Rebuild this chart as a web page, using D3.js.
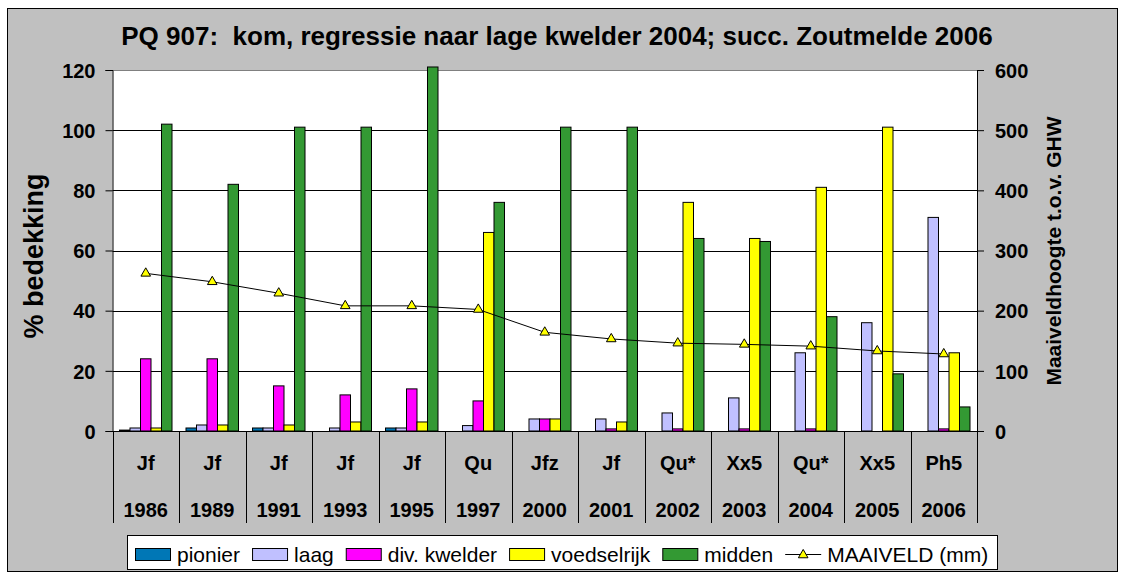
<!DOCTYPE html>
<html>
<head>
<meta charset="utf-8">
<script src="https://cdn.jsdelivr.net/npm/d3@7"></script>
<style>
  body { margin: 0; background: #fff; }
  text { font-family: "Liberation Sans", Arial, sans-serif; }
</style>
</head>
<body>
<svg width="1121" height="577"></svg>
<script>
// data
var years = ['1986', '1989', '1991', '1993', '1995', '1997', '2000', '2001', '2002', '2003', '2004', '2005', '2006'];
var codes = ['Jf', 'Jf', 'Jf', 'Jf', 'Jf', 'Qu', 'Jfz', 'Jf', 'Qu*', 'Xx5', 'Qu*', 'Xx5', 'Ph5'];
var pionier = [0.3, 1, 1, 0, 1, 0, 0, 0, 0, 0, 0, 0, 0];
var laag = [1, 2, 1, 1, 1, 1.8, 4, 4, 6, 11, 26, 36, 71];
var divKwelder = [24, 24, 15, 12, 14, 10, 4, 0.7, 0.7, 0.7, 0.7, 0, 0.7];
var voedselrijk = [1, 2, 2, 3, 3, 66, 4, 3, 76, 64, 81, 101, 26];
var midden = [102, 82, 101, 101, 121, 76, 101, 101, 64, 63, 38, 19, 8];
var maaiveld = [262, 248, 229, 208, 208, 202, 164, 153, 146, 144, 141, 133, 128];
var leftTicks = [0, 20, 40, 60, 80, 100, 120];
var rightTicks = [0, 100, 200, 300, 400, 500, 600];

var series = [
    { name: 'pionier', values: pionier, color: '#0077b6' },
    { name: 'laag', values: laag, color: '#c0c0ff' },
    { name: 'div. kwelder', values: divKwelder, color: '#ff00ff' },
    { name: 'voedselrijk', values: voedselrijk, color: '#ffff00' },
    { name: 'midden', values: midden, color: '#339933' }
];

var svg = d3.select('svg');
var plot = { l: 112.5, r: 977, t: 70, b: 431 };

// chart background
svg.append('rect')
    .attr('x', 7.5).attr('y', 8.5)
    .attr('width', 1110).attr('height', 563)
    .attr('fill', '#c0c0c0')
    .attr('stroke', '#000');

svg.append('rect')
    .attr('x', plot.l).attr('y', plot.t)
    .attr('width', plot.r - plot.l).attr('height', plot.b - plot.t)
    .attr('fill', '#fff');

// scales
var x = d3.scaleBand().domain(years).range([plot.l, plot.r]).padding(0);
var x1 = d3.scaleBand().domain(series.map(d => d.name)).range([7, x.bandwidth() - 7]).padding(0);
var y = d3.scaleLinear().domain([0, 120]).range([plot.b, plot.t]);
var y2 = d3.scaleLinear().domain([0, 600]).range([plot.b, plot.t]);

// gridlines
svg.append('g').selectAll('line')
    .data(leftTicks.filter(d => d > 0))
    .enter().append('line')
    .attr('x1', plot.l).attr('x2', plot.r)
    .attr('y1', d => Math.round(y(d)) + 0.5).attr('y2', d => Math.round(y(d)) + 0.5)
    .attr('stroke', d => d === 120 ? '#808080' : '#000')
    .attr('stroke-width', 1);

// bars
series.forEach(function(s) {
    svg.append('g').selectAll('rect')
        .data(years)
        .enter().append('rect')
        .attr('x', (d, i) => x(d) + x1(s.name))
        .attr('y', (d, i) => y(s.values[i]))
        .attr('width', x1.bandwidth())
        .attr('height', (d, i) => y(0) - y(s.values[i]))
        .attr('fill', s.color)
        .attr('stroke', '#000')
        .attr('stroke-width', 1)
        .style('display', (d, i) => s.values[i] > 0 ? null : 'none');
});

// left axis
var yAxis = d3.axisLeft(y).tickValues(leftTicks).tickSize(7).tickPadding(10);
var gy = svg.append('g')
    .attr('transform', `translate(${plot.l},0)`)
    .call(yAxis);
gy.select('.domain').attr('stroke', '#000');
gy.selectAll('text')
    .style('font-size', '20px').style('font-weight', 'bold')
    .attr('fill', '#000').attr('dy', '0.36em');

// right axis
var y2Axis = d3.axisRight(y2).tickValues(rightTicks).tickSize(7).tickPadding(11);
var gy2 = svg.append('g')
    .attr('transform', `translate(${plot.r},0)`)
    .call(y2Axis);
gy2.selectAll('text')
    .style('font-size', '20px').style('font-weight', 'bold')
    .attr('fill', '#000').attr('dy', '0.36em');

// category axis
svg.append('line')
    .attr('x1', plot.l).attr('x2', plot.r)
    .attr('y1', plot.b + 0.5).attr('y2', plot.b + 0.5)
    .attr('stroke', '#000');

var dividers = years.map(d => x(d)).concat([plot.r]);
svg.append('g').selectAll('line')
    .data(dividers)
    .enter().append('line')
    .attr('x1', d => Math.round(d) + 0.5).attr('x2', d => Math.round(d) + 0.5)
    .attr('y1', plot.b).attr('y2', 523)
    .attr('stroke', '#000');

svg.append('g').selectAll('text')
    .data(years)
    .enter().append('text')
    .attr('x', d => x(d) + x.bandwidth() / 2)
    .attr('y', 470)
    .attr('text-anchor', 'middle')
    .style('font-size', '20px').style('font-weight', 'bold')
    .text((d, i) => codes[i]);

svg.append('g').selectAll('text')
    .data(years)
    .enter().append('text')
    .attr('x', d => x(d) + x.bandwidth() / 2)
    .attr('y', 517)
    .attr('text-anchor', 'middle')
    .style('font-size', '20px').style('font-weight', 'bold')
    .text(d => d);

// maaiveld line
var line = d3.line()
    .x((d, i) => x(years[i]) + x.bandwidth() / 2)
    .y(d => y2(d));
svg.append('path')
    .datum(maaiveld)
    .attr('d', line)
    .attr('fill', 'none')
    .attr('stroke', '#000')
    .attr('stroke-width', 1);

var tri = d3.symbol().type(d3.symbolTriangle).size(40);
svg.append('g').selectAll('path')
    .data(maaiveld)
    .enter().append('path')
    .attr('d', tri)
    .attr('transform', (d, i) => `translate(${x(years[i]) + x.bandwidth() / 2},${y2(d)})`)
    .attr('fill', '#ffff00')
    .attr('stroke', '#000');

// titles
svg.append('text')
    .attr('x', 557).attr('y', 45)
    .attr('text-anchor', 'middle')
    .style('font-size', '26px').style('font-weight', 'bold')
    .text('PQ 907:  kom, regressie naar lage kwelder 2004; succ. Zoutmelde 2006')
    .attr('xml:space', 'preserve')
    .style('white-space', 'pre');

svg.append('text')
    .attr('transform', 'translate(43,256) rotate(-90)')
    .attr('text-anchor', 'middle')
    .style('font-size', '27px').style('font-weight', 'bold')
    .text('% bedekking');

svg.append('text')
    .attr('transform', 'translate(1061,251) rotate(-90)')
    .attr('text-anchor', 'middle')
    .style('font-size', '21px').style('font-weight', 'bold')
    .text('Maaiveldhoogte t.o.v. GHW');

// legend
svg.append('rect')
    .attr('x', 127.5).attr('y', 535.5)
    .attr('width', 870).attr('height', 34)
    .attr('fill', '#fff').attr('stroke', '#000');

var lx = 135;
series.forEach(function(s) {
    svg.append('rect')
        .attr('x', lx + 0.5).attr('y', 548.5)
        .attr('width', 35).attr('height', 12)
        .attr('fill', s.color).attr('stroke', '#000');
    var t = svg.append('text')
        .attr('x', lx + 42).attr('y', 562)
        .style('font-size', '21px')
        .text(s.name);
    lx = lx + 42 + t.node().getComputedTextLength() + 12;
});
svg.append('line')
    .attr('x1', lx).attr('x2', lx + 36)
    .attr('y1', 554.5).attr('y2', 554.5)
    .attr('stroke', '#000');
svg.append('path')
    .attr('d', tri)
    .attr('transform', `translate(${lx + 18},555)`)
    .attr('fill', '#ffff00').attr('stroke', '#000');
svg.append('text')
    .attr('x', lx + 42).attr('y', 562)
    .style('font-size', '21px')
    .text('MAAIVELD (mm)');
</script>
</body>
</html>
